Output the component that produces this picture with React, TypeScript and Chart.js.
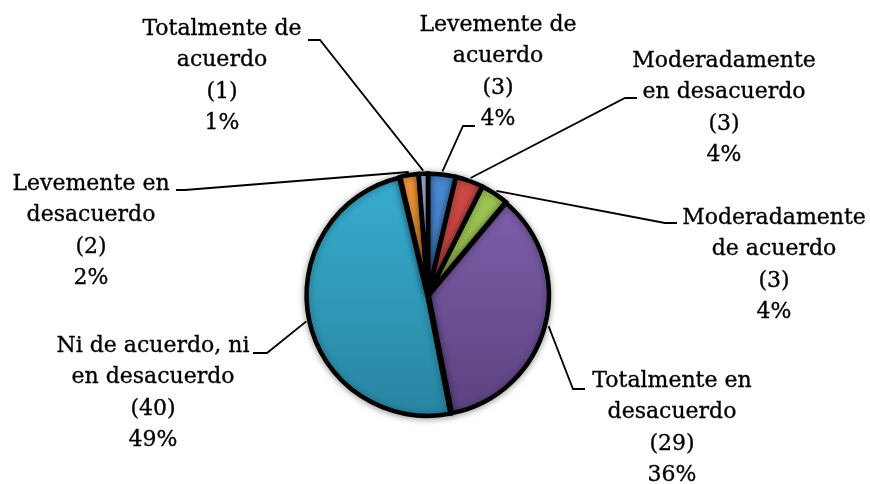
import React, { useEffect, useRef } from 'react';
import { Chart, registerables } from 'chart.js';
Chart.register(...registerables);

const categories = [
  'Levemente de acuerdo',
  'Moderadamente en desacuerdo',
  'Moderadamente de acuerdo',
  'Totalmente en desacuerdo',
  'Ni de acuerdo, ni en desacuerdo',
  'Levemente en desacuerdo',
  'Totalmente de acuerdo',
];
const labelLines = [
  ['Levemente de', 'acuerdo'],
  ['Moderadamente', 'en desacuerdo'],
  ['Moderadamente', 'de acuerdo'],
  ['Totalmente en', 'desacuerdo'],
  ['Ni de acuerdo, ni', 'en desacuerdo'],
  ['Levemente en', 'desacuerdo'],
  ['Totalmente de', 'acuerdo'],
];
const counts = [3, 3, 3, 29, 40, 2, 1];

const topColors = ['#4a8ad6', '#d24b47', '#a2cc56', '#8262ae', '#38aed0', '#f89a3a', '#aac6ea'];
const bottomColors = ['#33679f', '#a03532', '#7a9a3c', '#5b4180', '#2884a0', '#c9742a', '#7f9cc4'];

// label layout: text centre x, first line centre y, leader start (next to text) and elbow
const labelLayout = [
  { cx: 498, y0: 25, sx: 475, sy: 126, ex: 463, ey: 126 },
  { cx: 724, y0: 61, sx: 637, sy: 98, ex: 625, ey: 98 },
  { cx: 774, y0: 218, sx: 677, sy: 223, ex: 665, ey: 223 },
  { cx: 672, y0: 381, sx: 585, sy: 389, ex: 573, ey: 389 },
  { cx: 153, y0: 346, sx: 253, sy: 353, ex: 267, ey: 353 },
  { cx: 91, y0: 184, sx: 176, sy: 190, ex: 185, ey: 190 },
  { cx: 222, y0: 29, sx: 308, sy: 40, ex: 320, ey: 40 },
];

const total = counts.reduce((a, b) => a + b, 0);

const labelPlugin = {
  id: 'outLabels',
  beforeDatasetsDraw(chart: any) {
    const ctx = chart.ctx;
    ctx.save();
    ctx.shadowColor = 'rgba(0,0,0,0.35)';
    ctx.shadowBlur = 7;
    ctx.shadowOffsetX = 0;
    ctx.shadowOffsetY = 1;
  },
  afterDatasetsDraw(chart: any) {
    chart.ctx.restore();
  },
  afterDraw(chart: any) {
    const ctx = chart.ctx;
    const meta = chart.getDatasetMeta(0);
    ctx.save();
    meta.data.forEach((el: any, i: number) => {
      const p = el.getProps(['x', 'y', 'startAngle', 'endAngle', 'outerRadius'], true);
      const mid = (p.startAngle + p.endAngle) / 2;
      const off = 3;
      const r = p.outerRadius + off + 1.5;
      const px = p.x + Math.cos(mid) * r;
      const py = p.y + Math.sin(mid) * r;
      const L = labelLayout[i];
      ctx.strokeStyle = '#000';
      ctx.lineWidth = 1.8;
      ctx.beginPath();
      ctx.moveTo(L.sx, L.sy);
      ctx.lineTo(L.ex, L.ey);
      ctx.lineTo(px, py);
      ctx.stroke();
      const v = counts[i];
      const lines = [...labelLines[i], `(${v})`, `${Math.round((v / total) * 100)}%`];
      ctx.fillStyle = '#000';
      ctx.strokeStyle = '#000';
      ctx.lineWidth = 0.35;
      ctx.font = '22px "DejaVu Serif"';
      ctx.textAlign = 'center';
      ctx.textBaseline = 'middle';
      lines.forEach((t, k) => {
        ctx.fillText(t, L.cx, L.y0 + k * 31.5);
        ctx.strokeText(t, L.cx, L.y0 + k * 31.5);
      });
    });
    ctx.restore();
  },
};

export default function App() {
  const ref = useRef<HTMLCanvasElement>(null);
  useEffect(() => {
    document.body.style.margin = '0';
    const canvas = ref.current!;
    const chart = new Chart(canvas, {
      type: 'pie',
      data: {
        labels: categories,
        datasets: [
          {
            data: counts,
            backgroundColor: (c: any) => {
              const ch = c.chart;
              const area = ch.chartArea;
              const i = c.dataIndex;
              if (!area) return topColors[i];
              const g = ch.ctx.createLinearGradient(0, area.top, 0, area.bottom);
              g.addColorStop(0, topColors[i]);
              g.addColorStop(1, bottomColors[i]);
              return g;
            },
            borderColor: '#000',
            borderWidth: 4.5,
            offset: 3,
            hoverOffset: 3,
            borderJoinStyle: 'miter',
          } as any,
        ],
      },
      options: {
        responsive: false,
        animation: false,
        events: [],
        radius: 120,
        layout: { padding: { left: 304, right: 318, top: 171, bottom: 65 } },
        plugins: { legend: { display: false }, tooltip: { enabled: false } },
      } as any,
      plugins: [labelPlugin],
    });
    return () => chart.destroy();
  }, []);
  return (
    <div style={{ width: 870, height: 484, background: '#fff' }}>
      <canvas ref={ref} width={870} height={484} style={{ display: 'block' }} />
    </div>
  );
}
